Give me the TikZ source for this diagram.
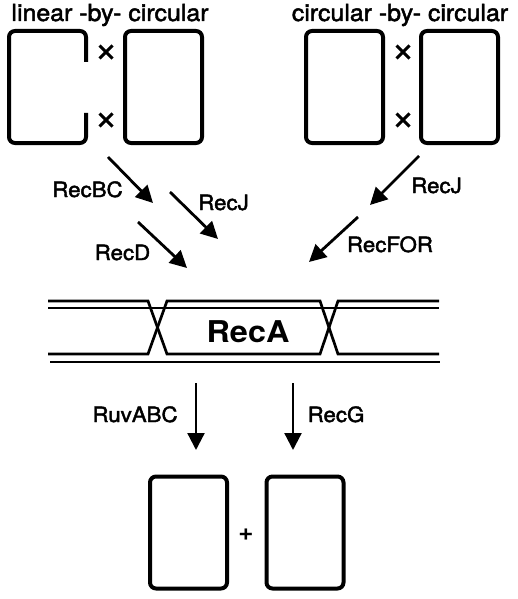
\documentclass[tikz,border=0pt]{standalone}
\usepackage{fontspec}
\setmainfont{TeX Gyre Heros}[FakeStretch=1.08]
\newfontfamily\enzfont{TeX Gyre Heros}[FakeStretch=1.06,FakeBold=2]
\usetikzlibrary{arrows.meta,shapes.misc}

\begin{document}
\begin{tikzpicture}
  [x=1pt,y=-1pt,every node/.style={inner sep=0pt},
   plasmid/.style={draw,line width=4pt,rounded corners=6pt,minimum width=77pt,minimum height=112pt},
   title/.style={font=\enzfont\fontsize{23.5}{28}\selectfont,anchor=base},
   enzyme/.style={font=\enzfont\fontsize{21}{25}\selectfont,anchor=base},
   xover/.style={draw,cross out,line width=3pt,minimum size=10pt},
   arr/.style={line width=2.8pt,-{Triangle[length=17pt,width=17pt]}},
   strand/.style={line width=2.7pt}]
  \useasboundingbox (0,0) rectangle (518,599);

  % substrates
  \node[title] (lin) at (110,21) {linear -by- circular};
  \node[title] (circ) at (400,21) {circular -by- circular};
  \draw[line width=4pt,rounded corners=6pt] (86,62) -- (86,31) -- (9,31) -- (9,143) -- (86,143) -- (86,113);
  \node[plasmid] (lc) at (163.5,87) {};
  \node[plasmid] (cc1) at (344.5,87) {};
  \node[plasmid] (cc2) at (459.5,87) {};
  \node[xover] (x1) at (106,52) {};
  \node[xover] (x2) at (106,120) {};
  \node[xover] (x3) at (403,52) {};
  \node[xover] (x4) at (403,120) {};

  % arrow ends
  \coordinate (bc1) at (108,157);  \coordinate (bc2) at (153,203);
  \coordinate (j1) at (170,192);   \coordinate (j2) at (218,239);
  \coordinate (d1) at (138,222);   \coordinate (d2) at (187,268);
  \coordinate (jr1) at (419,156);  \coordinate (jr2) at (370,205);
  \coordinate (f1) at (358,217);   \coordinate (f2) at (309,262);
  \coordinate (r1) at (196,383);   \coordinate (r2) at (196,450);
  \coordinate (g1) at (293,383);   \coordinate (g2) at (293,450);

  \foreach \from/\to in {bc1/bc2,j1/j2,d1/d2,jr1/jr2,f1/f2}
    \draw[arr] (\from) -- (\to);
  \foreach \from/\to in {r1/r2,g1/g2}
    \draw[arr,line width=2.3pt] (\from) -- (\to);

  \node[enzyme] (recbc) at (87.5,197) {RecBC};
  \node[enzyme] (recj) at (223.5,210) {RecJ};
  \node[enzyme] (recd) at (122.5,260) {RecD};
  \node[enzyme] (recjr) at (436.5,193) {RecJ};
  \node[enzyme] (recfor) at (390,252) {RecFOR};

  % holliday junctions
  \draw[strand] (48,301) -- (148,301) -- (167,354) -- (320,354) -- (338,301) -- (439,301);
  \draw[strand] (48,354) -- (148,354) -- (167,301) -- (320,301) -- (338,354) -- (439,354);
  \draw[strand] (48,308) -- (439,308);
  \draw[strand] (50,362) -- (440,362);
  \node[font=\bfseries\fontsize{30}{36}\selectfont,anchor=base] (reca) at (248,342) {RecA};

  \node[enzyme] (ruv) at (135,422) {RuvABC};
  \node[enzyme] (recg) at (336,422) {RecG};

  % products
  \node[plasmid] (p1) at (188.5,532.5) {};
  \node[plasmid] (p2) at (305,532.5) {};
  \node[font=\bfseries\fontsize{24}{24}\selectfont] (plus) at (246,535) {+};
\end{tikzpicture}
\end{document}
